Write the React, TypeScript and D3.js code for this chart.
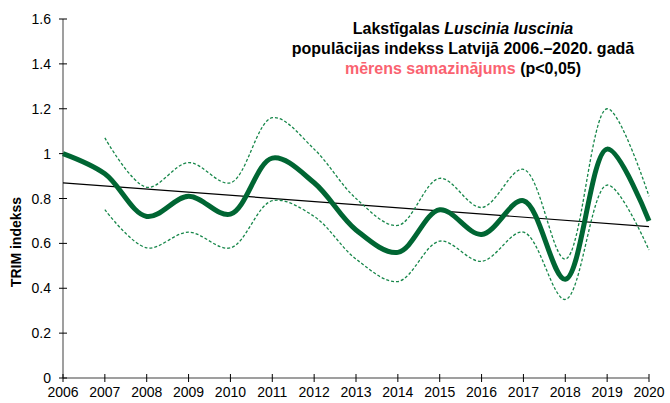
import React, { useEffect, useRef } from 'react';
import * as d3 from 'd3';

// data
const years = [2006, 2007, 2008, 2009, 2010, 2011, 2012, 2013, 2014, 2015, 2016, 2017, 2018, 2019, 2020];
const index = [1.0, 0.91, 0.72, 0.81, 0.73, 0.98, 0.87, 0.66, 0.56, 0.75, 0.64, 0.79, 0.44, 1.02, 0.7];
const upperCI = [null, 1.07, 0.85, 0.96, 0.87, 1.16, 1.02, 0.8, 0.68, 0.89, 0.76, 0.93, 0.53, 1.2, 0.81];
const lowerCI = [null, 0.75, 0.58, 0.65, 0.58, 0.79, 0.72, 0.53, 0.43, 0.61, 0.52, 0.65, 0.35, 0.86, 0.57];
const trendYears = [2006, 2020];
const trendValues = [0.87, 0.675];
const yTicks = [0, 0.2, 0.4, 0.6, 0.8, 1, 1.2, 1.4, 1.6];

const W = 670;
const H = 403;

export default function App() {
  const svgRef = useRef<SVGSVGElement>(null);

  useEffect(() => {
    const svg = d3.select(svgRef.current);
    svg.selectAll('*').remove();

    const x = d3.scaleLinear().domain([2006, 2020]).range([63, 649]);
    const y = d3.scaleLinear().domain([0, 1.6]).range([378, 19]);
    const font = 'Arial, "Liberation Sans", sans-serif';
    const axisColor = '#7f7f7f';

    // axes
    svg.append('line')
      .attr('x1', x(2006)).attr('x2', x(2006))
      .attr('y1', y(1.6)).attr('y2', y(0))
      .style('stroke', axisColor).style('stroke-width', 1.5);
    svg.append('line')
      .attr('x1', x(2006)).attr('x2', x(2020))
      .attr('y1', y(0)).attr('y2', y(0))
      .style('stroke', axisColor).style('stroke-width', 1.5);

    svg.selectAll('.ytick')
      .data(yTicks)
      .enter()
      .append('line')
      .attr('x1', x(2006) - 4).attr('x2', x(2006) + 4)
      .attr('y1', d => y(d)).attr('y2', d => y(d))
      .style('stroke', '#000').style('stroke-width', 1);

    svg.selectAll('.ylabel')
      .data(yTicks)
      .enter()
      .append('text')
      .attr('x', 51)
      .attr('y', d => y(d) + 5)
      .attr('text-anchor', 'end')
      .style('font-family', font)
      .style('font-size', '14px')
      .style('fill', '#000')
      .text(d => (d === 0 || d === 1 ? String(d) : d.toFixed(1)));

    svg.selectAll('.xtick')
      .data(years)
      .enter()
      .append('line')
      .attr('x1', d => x(d)).attr('x2', d => x(d))
      .attr('y1', y(0) - 4).attr('y2', y(0) + 4)
      .style('stroke', '#000').style('stroke-width', 1);

    svg.selectAll('.xlabel')
      .data(years)
      .enter()
      .append('text')
      .attr('x', d => x(d))
      .attr('y', 397)
      .attr('text-anchor', 'middle')
      .style('font-family', font)
      .style('font-size', '14px')
      .style('fill', '#000')
      .text(d => String(d));

    svg.append('text')
      .attr('transform', 'translate(21, 242) rotate(-90)')
      .attr('text-anchor', 'middle')
      .style('font-family', font)
      .style('font-size', '14px')
      .style('font-weight', 'bold')
      .text('TRIM indekss');

    // trend line
    svg.append('path')
      .datum(trendYears.map((yr, i) => [yr, trendValues[i]]))
      .attr('d', d3.line<number[]>().x(d => x(d[0])).y(d => y(d[1])))
      .style('fill', 'none').style('stroke', '#000').style('stroke-width', 1.2);

    const smooth = d3.line<[number, number | null]>()
      .defined(d => d[1] != null)
      .x(d => x(d[0]))
      .y(d => y(d[1] as number))
      .curve(d3.curveCatmullRom.alpha(0.5));

    [upperCI, lowerCI].forEach(ci => {
      svg.append('path')
        .datum(years.map((yr, i) => [yr, ci[i]] as [number, number | null]))
        .attr('d', smooth)
        .style('fill', 'none')
        .style('stroke', '#17874a')
        .style('stroke-width', 1.3)
        .style('stroke-dasharray', '3,2');
    });

    svg.append('path')
      .datum(years.map((yr, i) => [yr, index[i]] as [number, number | null]))
      .attr('d', smooth)
      .style('fill', 'none')
      .style('stroke', '#006633')
      .style('stroke-width', 5)
      .style('stroke-linejoin', 'round');

    // title
    const title = svg.append('g')
      .style('font-family', font)
      .style('font-size', '16px')
      .style('font-weight', 'bold')
      .attr('text-anchor', 'middle');
    const t1 = title.append('text').attr('x', 463).attr('y', 34);
    t1.append('tspan').text('Lakstīgalas ');
    t1.append('tspan').style('font-style', 'italic').text('Luscinia luscinia');
    title.append('text').attr('x', 463).attr('y', 54)
      .text('populācijas indekss Latvijā 2006.–2020. gadā');
    const t3 = title.append('text').attr('x', 463).attr('y', 74);
    t3.append('tspan').style('fill', '#fa6270').text('mērens samazinājums');
    t3.append('tspan').text(' (p<0,05)');
  }, []);

  return (
    <svg
      ref={svgRef}
      width={W}
      height={H}
      style={{ position: 'absolute', left: 0, top: 0, background: '#fff', display: 'block' }}
    />
  );
}
